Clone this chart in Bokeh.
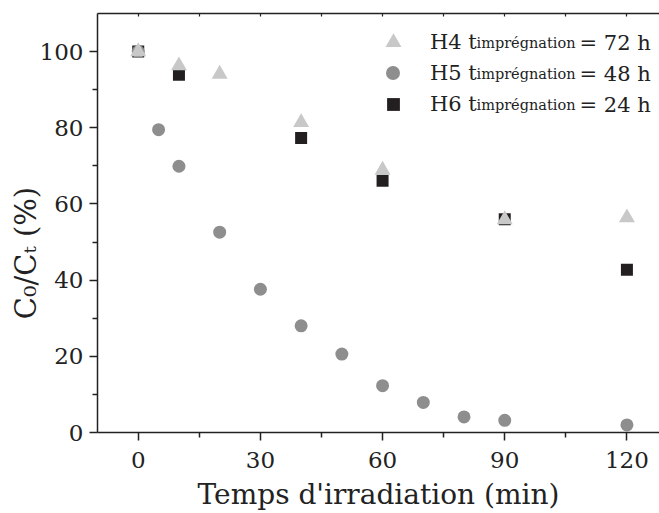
from bokeh.plotting import figure
from bokeh.models import (Range1d, LinearAxis, FixedTicker, Legend, LegendItem, Label)
from bokeh.core.properties import value
from bokeh.embed import file_html
from bokeh.resources import INLINE

# ---- data ----
h4_time = [0, 10, 20, 40, 60, 90, 120]
h4_values = [100, 96.3, 94.1, 81.4, 68.9, 55.9, 56.4]

h5_time = [0, 5, 10, 20, 30, 40, 50, 60, 70, 80, 90, 120]
h5_values = [100, 79.5, 69.9, 52.6, 37.6, 28.0, 20.6, 12.3, 7.9, 4.1, 3.2, 2.0]

h6_time = [0, 10, 40, 60, 90, 120]
h6_values = [100, 93.9, 77.3, 66.1, 56.0, 42.7]

x_ticks = [0, 30, 60, 90, 120]
x_minor = [15, 45, 75, 105]
y_ticks = [0, 20, 40, 60, 80, 100]
y_minor = [10, 30, 50, 70, 90]
legend_names = ["H4 t", "H5 t", "H6 t"]
legend_sub = "imprégnation"
legend_tail = ["= 72 h", "= 48 h", "= 24 h"]
x_title = "Temps d'irradiation (min)"
# trailing spaces move the visible title below the frame centre, as in the original
y_title = "C\u2080/C\u209c (%)" + "\u00a0" * 6 + "\u2006"

FONT = "DejaVu Serif"
INK = "#222222"
C_H4 = "#c8c8c8"
C_H5 = "#8e8e8e"
C_H6 = "#231f20"

p = figure(width=659, height=513, output_backend="svg", toolbar_location=None,
           x_range=Range1d(-10, 128), y_range=Range1d(0, 110),
           min_border_left=97, min_border_right=0, min_border_top=13, min_border_bottom=80,
           x_axis_label=x_title, y_axis_label=y_title)
p.outline_line_color = None
p.grid.visible = False
p.background_fill_color = "white"
p.border_fill_color = "white"

for ax in (p.xaxis[0], p.yaxis[0]):
    ax.axis_line_color = INK
    ax.axis_line_width = 1.5
    ax.major_tick_line_color = INK
    ax.minor_tick_line_color = INK
    ax.major_tick_line_width = 1.5
    ax.minor_tick_line_width = 1.5
    ax.major_tick_in = 0
    ax.major_tick_out = 8
    ax.minor_tick_in = 0
    ax.minor_tick_out = 5
    ax.major_label_text_font = FONT
    ax.major_label_text_font_size = "23px"
    ax.major_label_text_color = INK
    ax.axis_label_text_font = FONT
    ax.axis_label_text_font_size = "28px"
    ax.axis_label_text_font_style = "normal"
    ax.axis_label_text_color = INK

p.yaxis[0].axis_label_text_font_size = "29px"
p.xaxis[0].ticker = FixedTicker(ticks=x_ticks, minor_ticks=x_minor)
p.yaxis[0].ticker = FixedTicker(ticks=y_ticks, minor_ticks=y_minor)
p.xaxis[0].major_label_standoff = 11
p.xaxis[0].axis_label_standoff = 7
p.yaxis[0].major_label_standoff = 6
p.yaxis[0].axis_label_standoff = -6

# top frame line with small inward ticks only (no labels)
top = LinearAxis(ticker=FixedTicker(ticks=[], minor_ticks=x_ticks + x_minor),
                 axis_line_color=INK, axis_line_width=1.5,
                 major_tick_in=0, major_tick_out=0,
                 minor_tick_in=3, minor_tick_out=0,
                 minor_tick_line_color=INK, minor_tick_line_width=1.2,
                 major_label_standoff=0)
p.add_layout(top, "above")

r6 = p.scatter(h6_time, h6_values, marker="square", size=12, fill_color=C_H6, line_color=None)
r5 = p.scatter(h5_time, h5_values, marker="circle", size=13, fill_color=C_H5, line_color=None)
r4 = p.scatter(h4_time, h4_values, marker="triangle", size=16, fill_color=C_H4, line_color=None)

# one legend per row so each marker keeps its own size
legend_specs = [
    (r4, legend_names[0], (276, 370), 40, 17),
    (r5, legend_names[1], (278, 342), 35, 20),
    (r6, legend_names[2], (280, 312), 32, 21),
]
for rend, name, loc, gsize, standoff in legend_specs:
    lg = Legend(items=[LegendItem(label=value(name), renderers=[rend])],
                location=loc, padding=0, margin=0, spacing=0,
                glyph_width=gsize, glyph_height=gsize, label_standoff=standoff,
                label_text_font=FONT, label_text_font_size="21px", label_text_color=INK,
                border_line_color=None, background_fill_alpha=0)
    p.add_layout(lg, "center")

row_baselines = [390, 359, 328]
for tail, yy in zip(legend_tail, row_baselines):
    p.add_layout(Label(x=379, y=yy, x_units="screen", y_units="screen", text=legend_sub,
                       text_font=FONT, text_font_size="14.5px", text_color=INK,
                       text_baseline="alphabetic"))
    p.add_layout(Label(x=482, y=yy, x_units="screen", y_units="screen", text=tail,
                       text_font=FONT, text_font_size="21px", text_color=INK,
                       text_baseline="alphabetic"))

open("out.html", "w").write(file_html(p, INLINE))
